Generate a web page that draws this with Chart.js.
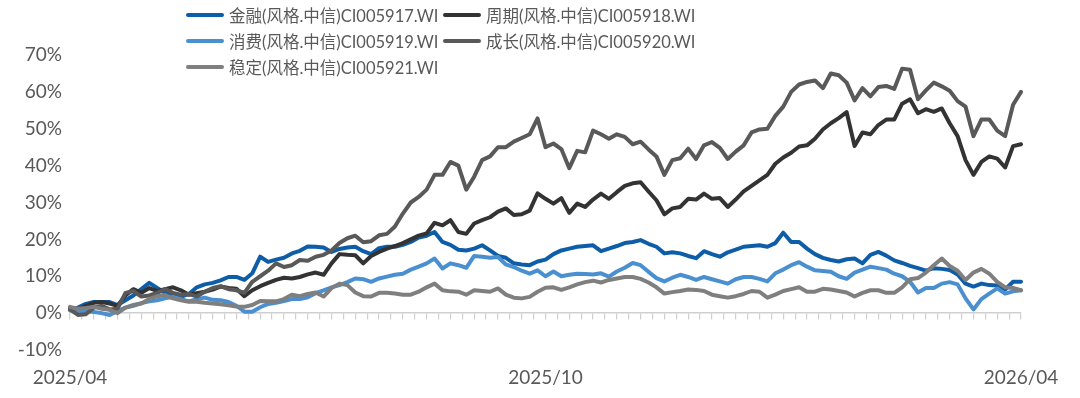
<!DOCTYPE html>
<html lang="zh">
<head>
  <meta charset="UTF-8">
  <title>中信风格指数走势</title>
  <script src="https://cdn.jsdelivr.net/npm/chart.js"></script>
  <style>
    html, body { margin: 0; padding: 0; background: #fff; }
    #wrap { position: relative; width: 1080px; height: 398px; }
    #legend { position: absolute; left: 186px; top: 2px; display: grid; grid-template-columns: 257px 257px;
              font-family: 'Lato', 'Noto Sans CJK SC', sans-serif; font-size: 16.5px; color: #595959; }
    .item { display: flex; align-items: center; height: 26px; white-space: nowrap; }
    .swatch { width: 38px; height: 4px; border-radius: 2px; margin-right: 5px; }
  </style>
</head>
<body>

<div id="wrap">
  <canvas id="styleChart" width="1080" height="398"></canvas>
  <div id="legend"></div>
</div>

<script>
  // cumulative return, %
  const names = ['金融(风格.中信)CI005917.WI', '周期(风格.中信)CI005918.WI', '消费(风格.中信)CI005919.WI',
                 '成长(风格.中信)CI005920.WI', '稳定(风格.中信)CI005921.WI'];
  const colors = ['#0E5DA8', '#333333', '#4A90D0', '#595959', '#7F7F7F'];

  const finance = [1.0, 1.5, 2.5, 3.0, 3.0, 3.0, 2.2, 3.5, 4.8, 6.5, 8.2, 6.8, 5.5, 4.8, 4.4, 5.2, 7.0, 7.8, 8.2, 8.9,
    9.8, 9.8, 9.0, 10.8, 15.3, 13.9, 14.5, 15.0, 16.2, 16.9, 18.1, 18.0, 17.8, 16.6, 17.4, 17.8, 18.0, 16.8, 16.0, 17.6,
    18.0, 18.0, 18.5, 19.3, 20.5, 21.0, 22.0, 19.3, 18.5, 17.2, 17.0, 17.5, 18.4, 17.0, 15.5, 15.0, 13.5, 13.2, 13.0, 14.0,
    14.5, 16.0, 17.0, 17.5, 18.0, 18.2, 18.4, 16.8, 17.5, 18.2, 19.0, 19.3, 19.8, 18.8, 18.0, 16.2, 16.5, 16.2, 15.5, 14.9,
    16.8, 16.0, 15.3, 16.5, 17.2, 18.0, 18.2, 18.4, 18.0, 19.0, 21.8, 19.3, 19.3, 17.5, 16.0, 15.0, 14.4, 14.0, 14.6, 14.8,
    13.5, 15.8, 16.6, 15.6, 14.3, 13.6, 12.8, 12.2, 11.5, 12.2, 12.0, 11.7, 10.5, 8.0, 7.2, 8.0, 7.6, 7.5, 6.4, 8.5, 8.5];

  const cycle = [1.5, 1.0, 2.0, 2.8, 3.0, 2.6, 2.0, 4.8, 6.5, 5.5, 6.8, 6.0, 6.5, 7.0, 6.2, 5.0, 5.4, 5.8, 6.4, 7.2,
    6.8, 6.6, 4.6, 6.2, 7.3, 8.2, 9.0, 9.6, 9.4, 9.8, 10.5, 11.0, 10.4, 13.5, 16.0, 15.8, 15.7, 13.5, 15.5, 16.6,
    17.5, 18.2, 19.0, 20.0, 21.0, 21.6, 24.5, 23.8, 25.2, 22.0, 21.5, 24.3, 25.2, 26.0, 27.5, 28.4, 26.6, 26.8, 27.8, 32.5,
    31.0, 29.7, 31.2, 27.2, 29.7, 28.8, 30.8, 32.4, 31.0, 32.8, 34.5, 35.2, 35.5, 33.0, 30.6, 26.8, 28.4, 28.8, 31.0, 30.8,
    32.4, 31.0, 31.2, 28.8, 30.8, 33.0, 34.5, 36.0, 37.5, 40.5, 42.2, 43.5, 45.2, 45.5, 47.3, 49.8, 51.5, 52.9, 54.5, 45.3,
    49.0, 48.5, 51.0, 52.5, 52.5, 56.8, 58.0, 54.2, 55.3, 54.6, 55.5, 51.5, 48.0, 41.5, 37.5, 41.0, 42.5, 41.9, 39.5, 45.3, 45.8];

  const consumer = [0.8, 0.5, 0.6, 0.3, 0.0, -0.5, 0.6, 1.5, 2.0, 2.7, 3.2, 3.5, 4.0, 4.4, 3.8, 3.2, 3.8, 4.2, 3.6, 3.5,
    3.0, 2.0, 0.4, 0.4, 1.6, 2.5, 2.8, 3.3, 3.8, 3.8, 4.3, 5.4, 6.2, 7.0, 7.6, 8.4, 9.4, 9.2, 8.5, 9.4,
    9.9, 10.4, 10.7, 11.8, 12.6, 13.5, 14.8, 12.1, 13.5, 13.0, 12.3, 15.5, 15.3, 15.0, 15.2, 13.2, 12.5, 11.5, 10.7, 11.6,
    10.0, 11.3, 10.0, 10.4, 10.7, 10.6, 10.5, 10.8, 9.9, 11.3, 12.3, 13.6, 13.0, 11.2, 9.5, 8.6, 9.6, 10.4, 9.8, 9.0,
    9.8, 9.2, 8.6, 8.0, 9.2, 9.8, 9.8, 9.3, 8.6, 10.8, 11.8, 13.0, 13.8, 12.6, 11.6, 11.4, 11.2, 10.0, 9.3, 11.0,
    11.8, 12.6, 12.2, 11.8, 10.7, 10.0, 8.5, 5.6, 6.8, 6.8, 8.0, 8.4, 7.8, 4.0, 1.0, 3.8, 5.3, 6.7, 5.3, 5.9, 6.2];

  const growth = [1.0, -0.5, -0.3, 1.5, 2.0, 1.0, 1.2, 5.5, 6.0, 4.5, 4.8, 5.5, 6.5, 5.5, 5.0, 5.2, 4.5, 5.8, 6.8, 7.3,
    6.5, 6.2, 5.5, 8.5, 10.0, 11.5, 13.5, 12.5, 13.0, 14.4, 14.2, 15.3, 15.8, 17.0, 19.0, 20.3, 21.0, 19.2, 19.5, 21.1,
    21.5, 23.5, 27.0, 30.0, 31.5, 33.5, 37.5, 37.5, 41.0, 40.0, 33.5, 37.0, 41.5, 42.5, 45.0, 45.0, 46.5, 47.5, 48.5, 52.8,
    45.0, 46.0, 44.5, 39.3, 44.0, 43.6, 49.5, 48.5, 47.3, 48.5, 47.8, 45.8, 46.5, 44.4, 42.5, 37.5, 41.5, 42.0, 44.6, 41.8,
    45.5, 46.4, 44.8, 41.8, 43.8, 45.5, 49.0, 49.8, 50.0, 53.5, 56.0, 60.0, 62.0, 62.7, 63.1, 61.0, 65.0, 64.5, 62.5, 57.7,
    61.0, 58.8, 61.3, 61.6, 60.8, 66.3, 66.0, 58.0, 60.4, 62.5, 61.5, 60.3, 57.5, 56.0, 48.0, 52.5, 52.5, 49.5, 48.0, 56.5, 60.0];

  const stable = [1.7, 1.2, 1.4, 1.7, 1.2, 0.9, 0.0, 1.5, 2.2, 2.6, 3.8, 4.6, 4.9, 4.0, 3.5, 3.1, 3.1, 2.8, 2.6, 2.4,
    2.1, 1.8, 1.7, 2.2, 3.3, 3.2, 3.2, 3.8, 5.0, 4.6, 5.2, 5.6, 4.5, 6.8, 8.0, 7.6, 5.6, 4.6, 4.5, 5.5,
    5.5, 5.3, 5.0, 5.0, 5.8, 7.0, 8.0, 6.2, 5.9, 5.8, 5.0, 6.2, 6.0, 5.8, 6.7, 5.0, 4.2, 4.0, 4.4, 5.8,
    6.9, 7.0, 6.3, 7.0, 7.8, 8.4, 8.8, 8.3, 9.0, 9.4, 9.8, 9.8, 9.3, 8.3, 7.0, 5.3, 5.7, 6.0, 6.4, 6.3,
    6.0, 5.0, 4.6, 4.2, 4.6, 5.2, 6.0, 5.8, 4.2, 5.0, 6.0, 6.5, 7.0, 5.8, 5.8, 6.6, 6.4, 6.0, 5.6, 4.5,
    5.5, 6.2, 6.2, 5.5, 5.5, 7.0, 9.2, 9.5, 11.0, 13.0, 14.8, 12.8, 11.5, 9.0, 11.0, 12.0, 10.7, 8.5, 7.0, 6.8, 6.2];

  // trading-day positions where a date label is shown
  const tickLabels = { 0: '2025/04', 60: '2025/10', 120: '2026/04' };
  const yTicks = { min: -10, max: 70, step: 10 };
  const tickMarkCount = 80;

  const series = [finance, cycle, consumer, growth, stable];
  const labels = finance.map((_, i) => i);
  const font = { family: "Lato, 'Noto Sans CJK SC', sans-serif", size: 19 };

  const datasets = series.map((data, i) => ({
    label: names[i],
    data: data,
    borderColor: colors[i],
    borderWidth: 4,
    pointRadius: 0,
    tension: 0,
    fill: false,
    borderJoinStyle: 'round',
    borderCapStyle: 'round',
    order: series.length - i
  }));

  new Chart(document.getElementById('styleChart'), {
    type: 'line',
    data: { labels: labels, datasets: datasets },
    options: {
      responsive: false,
      animation: false,
      layout: { padding: { top: 55, right: 59, bottom: 0, left: 0 } },
      plugins: { legend: { display: false }, tooltip: { enabled: false } },
      scales: {
        x: {
          type: 'category',
          grid: { display: false, drawTicks: false },
          border: { display: false },
          ticks: {
            autoSkip: false, maxRotation: 0, padding: 16, color: '#595959', font: font,
            callback: (v, i) => tickLabels[i] ?? ''
          },
          afterFit: s => { s.height = 48; }
        },
        xTicks: {
          type: 'linear',
          position: { y: 0 },
          min: 0, max: tickMarkCount,
          grid: { drawOnChartArea: false, drawTicks: true, tickLength: 6, color: '#d0d0d0', lineWidth: 1.2 },
          border: { display: true, color: '#d0d0d0', width: 1.5 },
          ticks: { display: false, stepSize: 1, autoSkip: false, maxTicksLimit: 200 }
        },
        y: {
          min: yTicks.min, max: yTicks.max,
          grid: { display: false, drawTicks: false },
          border: { display: false },
          ticks: { stepSize: yTicks.step, padding: 8, color: '#595959', font: font, callback: v => v + '%' },
          afterFit: s => { s.width = 70; }
        }
      }
    }
  });

  const legend = document.getElementById('legend');
  names.forEach((n, i) => {
    const item = document.createElement('div');
    item.className = 'item';
    item.innerHTML = '<span class="swatch" style="background:' + colors[i] + '"></span><span>' + n + '</span>';
    legend.appendChild(item);
  });
</script>

</body>
</html>
